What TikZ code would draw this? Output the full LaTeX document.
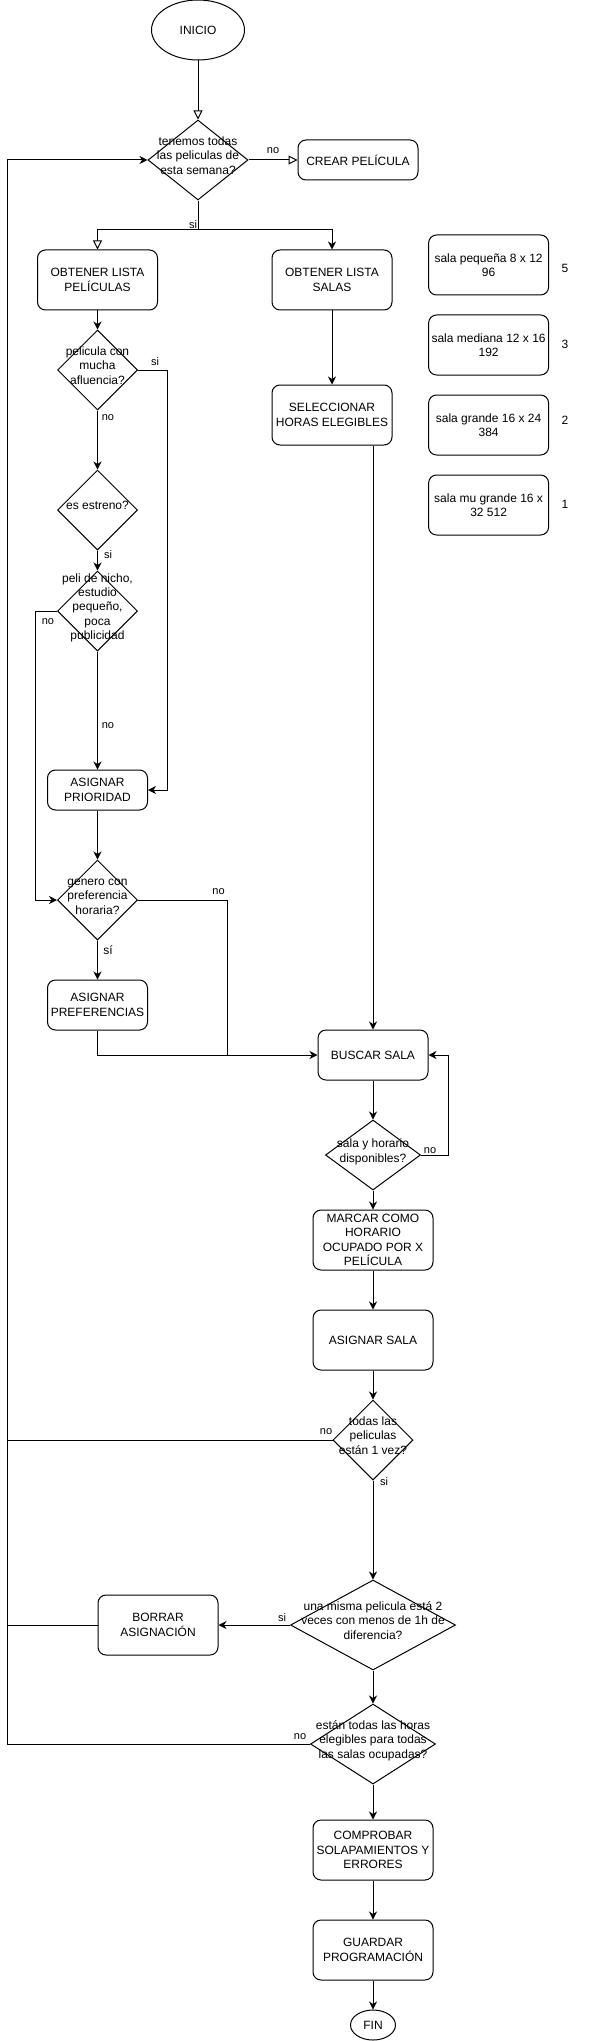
\documentclass[tikz,border=0pt]{standalone}
\usepackage{fontspec}
\setmainfont{Liberation Sans}
\usetikzlibrary{shapes.geometric,arrows.meta}
\tikzset{
  caja/.style={draw, rounded corners=8pt, align=center, inner sep=1pt,
    minimum width=120pt, minimum height=60pt},
  decision/.style={draw, diamond, inner sep=0pt, minimum width=80pt,
    minimum height=80pt},
  terminal/.style={draw, ellipse, inner sep=0pt},
  etiq/.style={font=\fontsize{11}{13}\selectfont, inner sep=0pt},
  flecha/.style={-{Stealth[length=8pt,width=8pt,inset=2.5pt]}},
  hueca/.style={-{Triangle[open,length=9pt,width=9pt,fill=white]}}
}
\newcommand{\dtext}[1]{\smash{\makebox[0pt]{\begin{tabular}{@{}c@{}}#1\end{tabular}}}}

\begin{document}
\begin{tikzpicture}[x=1pt, y=-1pt, line width=1pt,
  font=\fontsize{12}{14.4}\selectfont]
\useasboundingbox (0,0) rectangle (595,2041);

\node[terminal, minimum width=93pt, minimum height=60pt] (inicio) at (198,30) {INICIO};
\node[decision, minimum width=100pt] (todas) at (198,160)
  {\dtext{tenemos todas\\las peliculas de\\esta semana?}};
\node[caja, minimum height=40pt] (crear) at (358,160) {CREAR PELÍCULA};
\node[caja] (listapel) at (97.5,280) {OBTENER LISTA\\PELÍCULAS};
\node[caja] (listasal) at (332,280) {OBTENER LISTA\\SALAS};
\node[caja] (horas) at (332,415) {SELECCIONAR\\HORAS ELEGIBLES};

\node[caja] (sala1) at (488.6,265) {sala pequeña 8 x 12\\96};
\node[caja] (sala2) at (488.6,345) {sala mediana 12 x 16\\192};
\node[caja] (sala3) at (488.6,425) {sala grande 16 x 24\\384};
\node[caja] (sala4) at (488.6,505) {sala mu grande 16 x\\32 512};
\node (num1) at (565,268) {5};
\node (num2) at (565,344) {3};
\node (num3) at (565,420) {2};
\node (num4) at (565,504) {1};

\node[decision] (afluencia) at (97.5,370) {\dtext{pelicula con\\mucha\\afluencia?}};
\node[decision] (estreno) at (97.5,510) {\dtext{es estreno?}};
\node[decision] (nicho) at (97.5,611)
  {\dtext{peli de nicho,\\estudio\\pequeño,\\poca\\publicidad}};
\node[caja, minimum width=100pt, minimum height=40pt] (prioridad) at (97.5,790)
  {ASIGNAR\\PRIORIDAD};
\node[decision] (genero) at (97.5,900) {\dtext{genero con\\preferencia\\horaria?}};
\node[caja, minimum width=100pt, minimum height=50pt] (preferencias) at (97.5,1005)
  {ASIGNAR\\PREFERENCIAS};

\node[caja, minimum width=110pt, minimum height=50pt] (buscar) at (373,1055) {BUSCAR SALA};
\node[decision, minimum width=95pt, minimum height=70pt] (disponible) at (373,1155)
  {\dtext{sala y horario\\disponibles?}};
\node[caja] (marcar) at (373,1240) {MARCAR COMO\\HORARIO\\OCUPADO POR X\\PELÍCULA};
\node[caja] (asignar) at (373,1340) {ASIGNAR SALA};
\node[decision] (unavez) at (373,1440) {\dtext{todas las\\peliculas\\están 1 vez?}};
\node[decision, minimum width=165pt, minimum height=90pt] (dosveces) at (373,1625)
  {\dtext{una misma pelicula está 2\\veces con menos de 1h de\\diferencia?}};
\node[caja] (borrar) at (158,1625) {BORRAR\\ASIGNACIÓN};
\node[decision, minimum width=125pt] (ocupadas) at (373,1744)
  {\dtext{están todas las horas\\elegibles para todas\\las salas ocupadas?}};
\node[caja] (comprobar) at (373,1850) {COMPROBAR\\SOLAPAMIENTOS Y\\ERRORES};
\node[caja] (guardar) at (373,1950) {GUARDAR\\PROGRAMACIÓN};
\node[terminal, minimum width=45pt, minimum height=30pt] (fin) at (373,2025) {FIN};

\coordinate (reparto) at (198,230);
\coordinate (rodeo) at (167,790);
\coordinate (bajada) at (35,900);
\coordinate (union) at (227,1055);
\coordinate (vuelta) at (448.7,1155);
\coordinate (retorno) at (7.6,160);

\draw[hueca] (inicio) -- (todas);
\draw[hueca] (todas) -- (crear);
\draw (todas) -- (reparto);
\draw[hueca] (reparto) -| (listapel);
\draw[flecha] (reparto) -| (listasal);
\draw[flecha] (listasal) -- (horas);
\draw[flecha] (listapel) -- (afluencia);
\draw[flecha] (afluencia.east) -| (rodeo) -- (prioridad.east);
\draw[flecha] (afluencia) -- (estreno);
\draw[flecha] (estreno) -- (nicho);
\draw[flecha] (nicho) -- (prioridad);
\draw[flecha] (nicho.west) -| (bajada) -- (genero.west);
\draw[flecha] (prioridad) -- (genero);
\draw[flecha] (genero) -- (preferencias);
\draw (genero.east) -| (union);
\draw[flecha] (preferencias.south) |- (buscar.west);
\draw[flecha] (horas.south -| buscar.north) -- (buscar.north);
\draw[flecha] (buscar) -- (disponible);
\draw[flecha] (disponible.east) -- (vuelta) |- (buscar.east);
\draw[flecha] (disponible) -- (marcar);
\draw[flecha] (marcar) -- (asignar);
\draw[flecha] (asignar) -- (unavez);
\draw (unavez.west) -- (unavez.west -| retorno);
\draw[flecha] (unavez) -- (dosveces);
\draw[flecha] (dosveces) -- (borrar);
\draw (borrar.west) -- (borrar.west -| retorno);
\draw[flecha] (dosveces) -- (ocupadas);
\draw[flecha] (ocupadas.west) -| (retorno) -- (todas.west);
\draw[flecha] (ocupadas) -- (comprobar);
\draw[flecha] (comprobar) -- (guardar);
\draw[flecha] (guardar) -- (fin);

\node[etiq] (e1) at (273,151) {no};
\node[etiq] (e2) at (193,225) {si};
\node[etiq] (e3) at (155,362) {si};
\node[etiq] (e4) at (108,418) {no};
\node[etiq] (e5) at (108,555) {si};
\node[etiq] (e6) at (48,622) {no};
\node[etiq] (e7) at (108,726) {no};
\node[etiq] (e8) at (218.6,892) {no};
\node[inner sep=0pt] (e9) at (108,950) {sí};
\node[etiq] (e10) at (430,1151) {no};
\node[etiq] (e11) at (326,1432) {no};
\node[etiq] (e12) at (384,1482) {si};
\node[etiq] (e13) at (282,1618) {si};
\node[etiq] (e14) at (300,1737) {no};
\end{tikzpicture}
\end{document}
